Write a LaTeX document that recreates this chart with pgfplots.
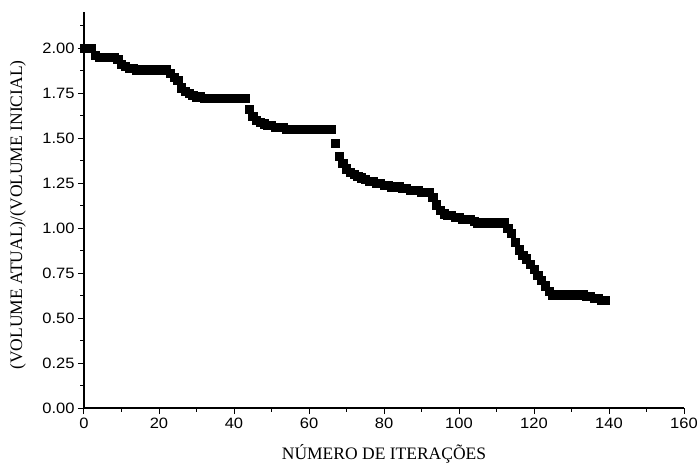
\documentclass[border=0pt]{standalone}
\usepackage{fontspec}
\setmainfont{Liberation Serif}
\newfontfamily\arialfont[FakeStretch=1.1]{Liberation Sans}
\usepackage{pgfplots}
\pgfplotsset{compat=1.18}
\begin{document}
\begin{tikzpicture}
\path[use as bounding box] (-84pt,-56pt) rectangle (614pt,408pt);
\begin{axis}[
  scale only axis,
  width=600pt, height=396pt,
  at={(0pt,0pt)}, anchor=south west,
  xmin=0, xmax=160, ymin=0, ymax=2.2,
  axis lines=left,
  axis line style={-, line width=1.2pt},
  xtick distance=20, ytick distance=0.25,
  minor x tick num=1, minor y tick num=1,
  tick align=outside,
  major tick length=6pt, minor tick length=3.5pt,
  tick style={line width=1pt, black},
  /pgf/number format/assume math mode=true,
  tick label style={font=\arialfont\fontsize{15}{17}\selectfont},
  yticklabel style={/pgf/number format/.cd, fixed, fixed zerofill, precision=2},
  xticklabel style={/pgf/number format/.cd, fixed, precision=0},
  scaled y ticks=false,
  xlabel={NÚMERO DE ITERAÇÕES},
  ylabel={(VOLUME ATUAL)/(VOLUME INICIAL)},
  label style={font=\fontsize{17.5}{20}\selectfont},
  xlabel style={at={(axis description cs:0.5,0)}, anchor=center, yshift=-46pt},
  ylabel style={at={(axis description cs:0,0.5)}, anchor=center, yshift=66pt, xshift=-5pt},
  clip=false,
]
\addplot[only marks, mark=square*, mark size=4.1pt, black] table {
x y
0 2.00
1 2.00
2 2.00
3 1.96
4 1.95
5 1.95
6 1.95
7 1.95
8 1.95
9 1.94
10 1.91
11 1.90
12 1.89
13 1.89
14 1.88
15 1.88
16 1.88
17 1.88
18 1.88
19 1.88
20 1.88
21 1.88
22 1.88
23 1.86
24 1.84
25 1.82
26 1.78
27 1.76
28 1.75
29 1.74
30 1.73
31 1.73
32 1.72
33 1.72
34 1.72
35 1.72
36 1.72
37 1.72
38 1.72
39 1.72
40 1.72
41 1.72
42 1.72
43 1.72
44 1.66
45 1.62
46 1.60
47 1.59
48 1.58
49 1.57
50 1.57
51 1.56
52 1.56
53 1.56
54 1.55
55 1.55
56 1.55
57 1.55
58 1.55
59 1.55
60 1.55
61 1.55
62 1.55
63 1.55
64 1.55
65 1.55
66 1.55
67 1.47
68 1.40
69 1.36
70 1.33
71 1.31
72 1.30
73 1.29
74 1.28
75 1.27
76 1.26
77 1.26
78 1.25
79 1.25
80 1.24
81 1.24
82 1.23
83 1.23
84 1.23
85 1.22
86 1.22
87 1.21
88 1.21
89 1.21
90 1.20
91 1.20
92 1.20
93 1.17
94 1.13
95 1.10
96 1.08
97 1.07
98 1.07
99 1.06
100 1.06
101 1.05
102 1.05
103 1.05
104 1.04
105 1.03
106 1.03
107 1.03
108 1.03
109 1.03
110 1.03
111 1.03
112 1.03
113 1.00
114 0.97
115 0.92
116 0.88
117 0.85
118 0.83
119 0.80
120 0.77
121 0.74
122 0.71
123 0.68
124 0.65
125 0.63
126 0.63
127 0.63
128 0.63
129 0.63
130 0.63
131 0.63
132 0.63
133 0.63
134 0.62
135 0.62
136 0.61
137 0.61
138 0.60
139 0.60
};
\end{axis}
\end{tikzpicture}
\end{document}
